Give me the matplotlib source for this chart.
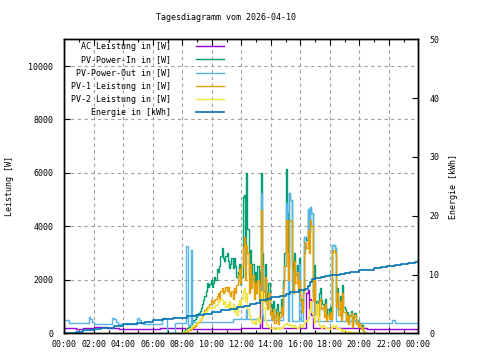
import numpy as np
import matplotlib
matplotlib.use('Agg')
import matplotlib.pyplot as plt
from matplotlib.ticker import MultipleLocator

title = "Tagesdiagramm vom 2026-04-10"
x_labels = ["00:00", "02:00", "04:00", "06:00", "08:00", "10:00", "12:00",
            "14:00", "16:00", "18:00", "20:00", "22:00", "00:00"]
labels = ["AC Leistung in [W]", "PV-Power-In in [W]", "PV-Power-Out in [W]",
          "PV-1 Leistung in [W]", "PV-2 Leistung in [W]", "Energie in [kWh]"]

# AC Leistung (W), step breakpoints (hours)
ac_t = [0.0, 0.8, 1.3, 2.0, 2.9, 3.7, 4.9, 6.5, 8.2, 12.0, 13.25, 13.33, 13.42,
        16.42, 16.5, 16.58, 16.67, 16.75, 16.83, 20.5, 24.0]
ac_w = [200, 150, 200, 240, 200, 150, 150, 200, 170, 190, 1800, 1700, 190,
        1500, 1610, 900, 1300, 700, 190, 175, 175]

# PV series on 5-minute grid from 08:00 to 20:30
pv_t = np.arange(151) / 12 + 8

pv_in_w = [
    50, 80, 120, 160, 200, 250, 300, 350, 420, 480, 550, 620,
    680, 760, 850, 950, 1100, 1250, 1400, 1600, 1900, 1750, 1850, 2000,
    1750, 1900, 2100, 2000, 2400, 2300, 2500, 2900, 3175, 2800, 2700, 2900,
    2990, 2700, 2450, 2610, 2800, 2450, 2800, 2500, 2110, 2300, 2600, 1860,
    2100, 5100, 5175, 2600, 5990, 3900, 2200, 3100, 2000, 2600, 1800, 2300,
    1900, 2500, 1700, 2300, 5990, 3000, 1600, 2600, 1500, 1200, 1900, 1000,
    1100, 700, 1200, 600, 900, 1100, 500, 800, 1300, 900, 2000, 3000,
    6140, 4500, 2500, 5240, 5000, 2700, 1800, 3000, 2200, 2550, 1900, 2800,
    1300, 1000, 1600, 3600, 3600, 3500, 4650, 3800, 4710, 4500, 1400, 2550,
    900, 1200, 700, 1500, 1700, 1240, 1100, 800, 1300, 600, 900, 700,
    1000, 700, 3300, 3300, 3200, 1200, 1700, 900, 1400, 600, 1800, 1000,
    900, 500, 800, 400, 700, 850, 300, 600, 750, 400, 500, 300,
    400, 200, 300, 100, 50, 0, 0]

pv1_w = [
    20, 30, 50, 70, 90, 110, 140, 170, 210, 250, 290, 330,
    380, 430, 490, 560, 650, 760, 860, 950, 1000, 990, 1100, 1240,
    1200, 1150, 1240, 1300, 1400, 1500, 1300, 1600, 1690, 1500, 1600, 1740,
    1600, 1740, 1500, 1400, 1600, 1300, 1700, 1500, 1800, 2200, 2400, 1900,
    2500, 3240, 3600, 2000, 3300, 3000, 1500, 2600, 1700, 2200, 1300, 1900,
    1500, 2000, 1300, 1800, 4600, 2500, 1200, 2100, 1100, 900, 1500, 700,
    800, 500, 900, 400, 700, 800, 350, 600, 990, 700, 1700, 2500,
    4240, 3000, 2000, 4240, 4200, 2400, 1500, 2700, 1900, 2300, 1600, 2000,
    1200, 800, 1500, 3000, 3425, 3200, 3860, 3000, 4240, 4000, 1200, 2000,
    700, 1000, 500, 1200, 1300, 900, 1000, 600, 1100, 450, 700, 550,
    800, 550, 3050, 3100, 3000, 1000, 1500, 700, 1200, 500, 1500, 800,
    800, 450, 700, 350, 650, 760, 250, 550, 700, 350, 450, 250,
    350, 150, 250, 80, 40, 0, 0]

pv2_w = [
    30, 50, 80, 110, 140, 170, 200, 230, 260, 300, 340, 380,
    420, 470, 530, 600, 680, 760, 800, 850, 900, 950, 990, 940,
    960, 990, 1000, 1050, 1100, 1240, 1200, 1300, 1250, 1100, 1200, 1000,
    1100, 990, 1200, 1000, 900, 1100, 800, 1000, 700, 1100, 1240, 1000,
    1300, 1600, 1700, 1200, 1500, 900, 700, 600, 500, 400, 450, 350,
    500, 600, 400, 500, 1600, 1300, 1000, 500, 350, 300, 250, 200,
    200, 180, 220, 150, 200, 250, 150, 200, 250, 200, 300, 350,
    400, 350, 300, 350, 300, 250, 250, 300, 250, 200, 200, 300,
    300, 250, 350, 400, 500, 450, 600, 900, 1200, 800, 600, 400,
    700, 1100, 600, 300, 250, 200, 300, 250, 200, 250, 200, 150,
    150, 200, 300, 250, 300, 200, 150, 200, 150, 100, 150, 100,
    100, 80, 100, 60, 80, 60, 50, 60, 40, 30, 30, 20,
    20, 10, 10, 0, 0, 0, 0]

# PV-Power-Out (W), step breakpoints
out_t = [0.0, 0.35, 1.65, 1.75, 1.85, 2.0, 3.23, 3.35, 3.5, 3.65, 4.93, 5.05,
         5.2, 5.35, 6.62, 6.97, 7.53, 8.25, 8.38, 8.58, 8.68, 11.46, 12.33,
         12.42, 13.33, 13.42, 13.5, 14.83, 14.92, 15.0, 15.08, 15.17, 15.25,
         15.33, 15.42, 15.92, 16.0, 16.08, 16.17, 16.25, 16.5, 16.58, 16.67,
         16.75, 16.83, 16.92, 18.17, 18.33, 18.42, 19.7, 19.95, 22.2, 22.45, 24.0]
out_w = [480, 390, 600, 520, 430, 340, 590, 520, 420, 340, 590, 500,
         400, 360, 590, 0, 390, 3250, 300, 3100, 420, 550, 900,
         550, 5240, 700, 480, 1800, 2500, 4875, 3000, 450, 5240,
         5000, 450, 2600, 1300, 450, 1500, 3600, 4650, 3800, 4710,
         4500, 1400, 450, 3300, 3200, 450, 490, 400, 490, 390, 390]

# Energie (kWh), step breakpoints
en_t = [0, 0.4, 0.8, 1.3, 2.0, 2.5, 2.9, 3.35, 4.0, 4.5, 4.9, 5.45, 6.0, 6.7,
        7.4, 8.3, 8.9, 9.45, 10.0, 10.6, 11.2, 11.7, 12.2, 12.6, 13.0, 13.3,
        13.7, 14.0, 14.6, 15.0, 15.3, 15.9, 16.3, 16.5, 16.65, 16.8, 17.0,
        17.4, 17.7, 18.0, 18.4, 18.7, 19.0, 19.35, 19.7, 19.95, 20.5, 21.0,
        21.5, 21.9, 22.4, 22.8, 23.3, 23.8, 24.0]
en_kwh = [0.0, 0.05, 0.2, 0.5, 0.73, 0.85, 0.97, 1.3, 1.5, 1.65, 1.8, 2.0, 2.3,
          2.5, 2.55, 3.0, 3.15, 3.3, 3.6, 3.9, 4.2, 4.46, 4.7, 4.9, 5.2, 5.6,
          5.9, 6.15, 6.4, 6.7, 7.0, 7.3, 7.55, 8.1, 8.7, 9.27, 9.44, 9.6, 9.8,
          9.9, 10.0, 10.15, 10.3, 10.4, 10.5, 10.7, 10.85, 11.07, 11.25, 11.4,
          11.6, 11.8, 12.0, 12.2, 12.3]

colors = ['#9400d3', '#009e73', '#56b4e9', '#e69f00', '#f0e442', '#0072b2']

plt.rcParams['font.family'] = ['DejaVu Sans Mono']
FS = 6

fig = plt.figure(figsize=(4.8, 3.6), dpi=100)
ax = fig.add_axes([64.3 / 480, 1 - 333.3 / 360, 354 / 480, 294 / 360])
ax2 = ax.twinx()

lw = 1.0
h = []
h += ax.plot(ac_t, ac_w, color=colors[0], lw=lw, drawstyle='steps-post', label=labels[0])
h += ax.plot(pv_t, pv_in_w, color=colors[1], lw=lw, drawstyle='steps-post', label=labels[1])
h += ax.plot(out_t, out_w, color=colors[2], lw=lw, drawstyle='steps-post', label=labels[2])
h += ax.plot(pv_t, pv1_w, color=colors[3], lw=lw, drawstyle='steps-post', label=labels[3])
h += ax.plot(pv_t, pv2_w, color=colors[4], lw=lw, drawstyle='steps-post', label=labels[4])
h += ax2.plot(en_t, en_kwh, color=colors[5], lw=1.2, drawstyle='steps-post', label=labels[5])

ax.set_xlim(0, 24)
ax.set_ylim(0, 11000)
ax2.set_ylim(0, 50)
ax.set_xticks(range(0, 25, 2))
ax.set_xticklabels(x_labels)
ax.xaxis.set_minor_locator(MultipleLocator(1))
ax.set_yticks(range(0, 10001, 2000))
ax2.set_yticks(range(0, 51, 10))

ax.tick_params(axis='both', which='major', direction='in', length=4, width=0.8,
               labelsize=FS, top=True, right=False)
ax.tick_params(axis='x', which='major', pad=5)
ax.tick_params(axis='y', which='major', pad=8)
ax.tick_params(axis='x', which='minor', direction='in', length=2, width=0.8, top=True)
ax2.tick_params(axis='y', direction='in', length=4, width=0.8, labelsize=FS, pad=8)

for a in (ax, ax2):
    for s in a.spines.values():
        s.set_linewidth(1.0)

ax.grid(True, which='major', color='#a0a0a0', linestyle=(0, (3, 3)), lw=0.8)

ax.set_ylabel("Leistung [W]", fontsize=FS, labelpad=10)
ax2.set_ylabel("Energie [kWh]", fontsize=FS, labelpad=7)

fig.text(226 / 480, 1 - 17.7 / 360, title, fontsize=FS, ha='center', va='center')

leg = ax2.legend(handles=h, loc='upper right', bbox_to_anchor=(0.451, 0.99),
                 frameon=False, markerfirst=False, fontsize=FS, handlelength=3.4,
                 handletextpad=2.9, labelspacing=0.5, borderpad=0, borderaxespad=0)

fig.savefig('out.png', dpi=100)
